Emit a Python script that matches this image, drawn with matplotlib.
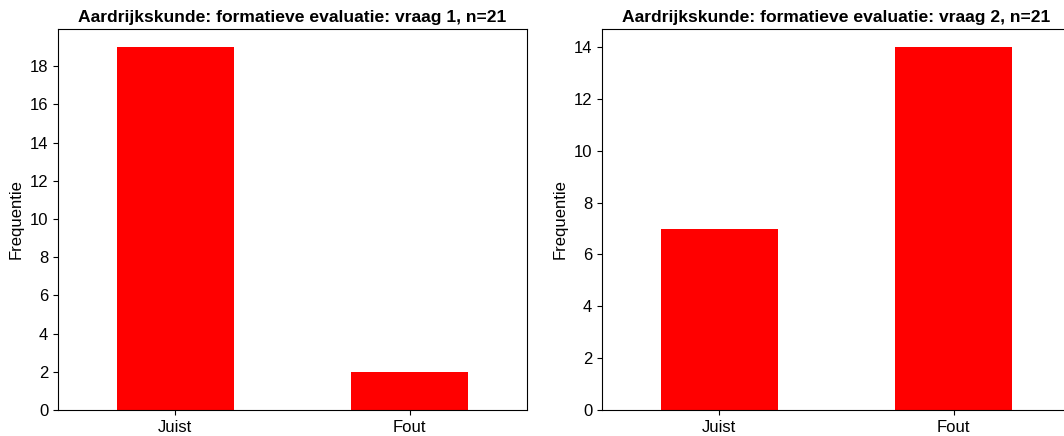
import matplotlib
matplotlib.use("Agg")
import matplotlib.pyplot as plt

plt.rcParams['font.family'] = ['Liberation Sans', 'DejaVu Sans']

categories = ["Juist", "Fout"]
q1_values = [19, 2]
q2_values = [7, 14]
titles = ["Aardrijkskunde: formatieve evaluatie: vraag 1, n=21",
          "Aardrijkskunde: formatieve evaluatie: vraag 2, n=21"]

W, H = 1064, 436
fig = plt.figure(figsize=(W / 100, H / 100), dpi=100)

def px_axes(left, top, right, bottom):
    return fig.add_axes([left / W, 1 - bottom / H, (right - left) / W, (bottom - top) / H])

ax1 = px_axes(58, 29, 527, 410)
ax2 = px_axes(602, 29, 1071, 410)

for ax, vals, title in [(ax1, q1_values, titles[0]), (ax2, q2_values, titles[1])]:
    x = list(range(len(categories)))
    ax.bar(x, vals, width=0.5, color="#ff0000")
    ax.set_xlim(-0.5, len(categories) - 0.5)
    ax.set_ylim(0, max(vals) * 1.05)
    ax.set_xticks(x)
    ax.set_xticklabels(categories)
    ax.set_yticks(range(0, max(vals) + 1, 2))
    ax.tick_params(labelsize=12)
    ax.set_ylabel("Frequentie", fontsize=12)
    ax.set_title(title, fontsize=12.6, fontweight="bold", pad=5)

fig.savefig("out.png", dpi=100)
